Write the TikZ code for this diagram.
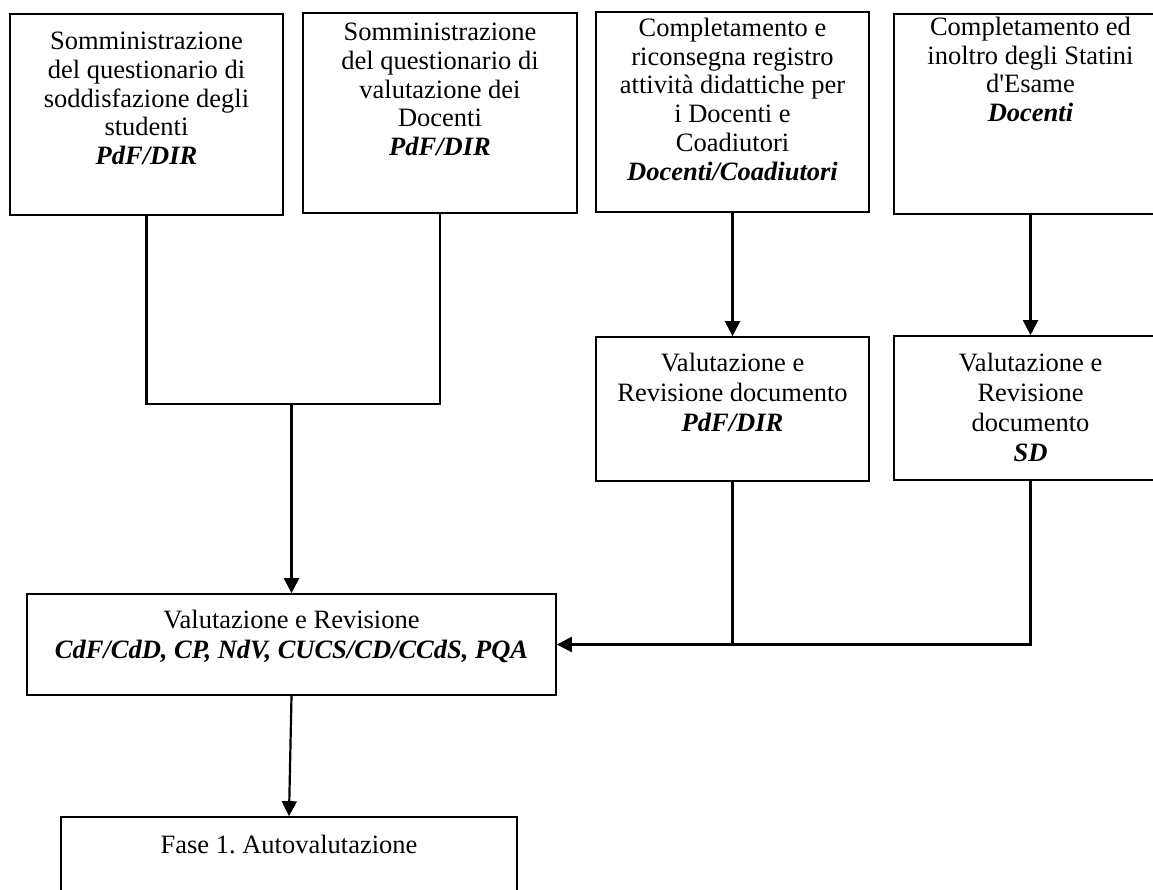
\documentclass[tikz,border=0pt]{standalone}
\usepackage{fontspec}
\setmainfont{Liberation Serif}
\usetikzlibrary{arrows.meta}
\begin{document}
\begin{tikzpicture}[x=1pt,y=-1pt,
  box/.style={draw=black, line width=1.7pt, rectangle, inner sep=0pt},
  lbl/.style={align=center, inner sep=0pt, anchor=north, font=\fontsize{26.5}{30}\selectfont},
  lbltop/.style={lbl, font=\fontsize{26.5}{28.7}\selectfont},
  conn/.style={line width=2.2pt},
  arr/.style={conn, -{Triangle[length=15pt,width=15pt]}}]
\useasboundingbox (0,0) rectangle (1153,889);
\clip (0,0) rectangle (1153,889);
% boxes
\node[box, minimum width=273pt, minimum height=201pt] (b1) at (146.5,114.5) {};
\node[box, minimum width=274pt, minimum height=200pt] (b2) at (440,113) {};
\node[box, minimum width=273pt, minimum height=200pt] (b3) at (732.5,112) {};
\node[box, minimum width=273pt, minimum height=200pt] (b4) at (1030.5,114) {};
\node[box, minimum width=273pt, minimum height=144pt] (r1) at (732.5,409) {};
\node[box, minimum width=273pt, minimum height=144pt] (r2) at (1030.5,408) {};
\node[box, minimum width=529pt, minimum height=101pt] (main) at (291.5,644.5) {};
\node[box, minimum width=456pt, minimum height=108pt] (fase) at (289,871) {};
% texts
\node[lbltop] (t1) at (146.5,32) {Somministrazione\\del questionario di\\soddisfazione degli\\studenti\\\textbf{\textit{PdF/DIR}}};
\node[lbltop] (t2) at (440,23) {Somministrazione\\del questionario di\\valutazione dei\\Docenti\\\textbf{\textit{PdF/DIR}}};
\node[lbltop] (t3) at (732.5,18) {Completamento e\\riconsegna registro\\attività didattiche per\\i Docenti e\\Coadiutori\\\textbf{\textit{Docenti/Coadiutori}}};
\node[lbltop] (t4) at (1030.5,17) {Completamento ed\\inoltro degli Statini\\d\textquotesingle Esame\\\textbf{\textit{Docenti}}};
\node[lbl] (t5) at (732.5,353) {Valutazione e\\Revisione documento\\\textbf{\textit{PdF/DIR}}};
\node[lbl] (t6) at (1030.5,353) {Valutazione e\\Revisione\\documento\\\textbf{\textit{SD}}};
\node[lbl] (t7) at (291.5,610) {Valutazione e Revisione\\\textbf{\textit{CdF/CdD, CP, NdV, CUCS/CD/CCdS, PQA}}};
\node[lbl] (t8) at (289,835) {Fase 1.\ Autovalutazione};
% connectors
\coordinate (m1) at (main.north |- 0,404);
\draw[conn] (b1.south) |- (m1) -| (b2.south);
\draw[arr] (m1) -- (main.north);
\draw[arr] (b3.south) -- (r1.north);
\draw[arr] (b4.south) -- (r2.north);
\draw[conn] (r1.south) -- (r1.south |- main.east);
\draw[arr] (r2.south) |- (main.east);
\draw[arr] (main.south) -- (fase.north);
\end{tikzpicture}
\end{document}
